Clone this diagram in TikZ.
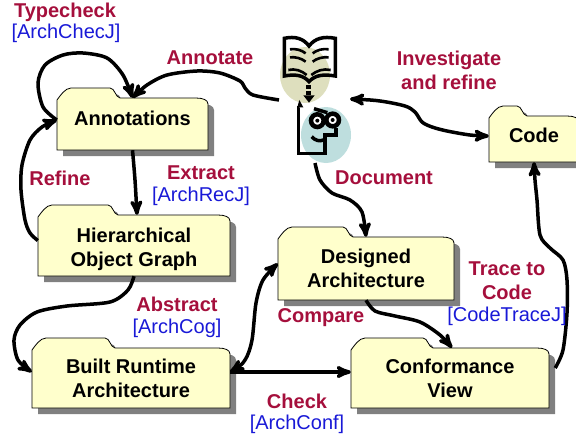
\documentclass[tikz,border=0pt]{standalone}
\usepackage{fontspec}
\setmainfont{Liberation Sans}
\usetikzlibrary{arrows}
\definecolor{folderfill}{RGB}{255,255,204}
\definecolor{labelred}{RGB}{165,15,60}
\definecolor{labelblue}{RGB}{25,25,215}
\definecolor{bookdisc}{RGB}{222,223,190}
\definecolor{readerdisc}{RGB}{190,222,222}
\tikzset{
	>=stealth',
	x=1pt,
	y=-1pt,
	flow/.style={line width=3.5pt},
	foldershadow/.style={fill=black!50},
	folderbody/.style={fill=folderfill, draw=black, line width=0.8pt},
	foldertext/.style={font=\fontsize{20}{24}\selectfont\bfseries, align=center, inner sep=0pt},
	action/.style={font=\fontsize{20}{24}\selectfont\bfseries, text=labelred, align=center, inner sep=0pt},
	tool/.style={font=\fontsize{20}{24}\selectfont, text=labelblue, inner sep=0pt},
	icon/.style={line width=3.5pt, line join=miter},
	pageline/.style={line width=2.6pt}}

% name, left, top, right, bottom, end of tab, text
\newcommand{\folder}[7]{
	\def\outline{({#2},{#3+2}) .. controls ({#2+3},{#3-2}) and ({#2+8},{#3-10}) .. ({#2+14},{#3-10})
		-- ({#6-10},{#3-10}) .. controls ({#6-5},{#3-10}) and ({#6-5},{#3-1}) .. ({#6},{#3})
		-- ({#4-12},{#3}) .. controls ({#4-5},{#3}) and ({#4},{#3+2}) .. ({#4},{#3+6})
		-- ({#4},{#5}) -- ({#2},{#5}) -- cycle}
	\fill[foldershadow, shift={(6,6)}] \outline;
	\draw[folderbody] \outline;
	\node[foldertext, minimum width={(#4-#2)*1pt}, minimum height={(#5-#3)*1pt}] (#1) at ({(#2+#4)/2},{(#3+#5)/2}) {#7};
}

\begin{document}
\begin{tikzpicture}
	\useasboundingbox (0,0) rectangle (576,437);
	
	\fill[bookdisc] (305,75) ellipse (25 and 28);
	\fill[readerdisc] (326,135) ellipse (25 and 28);
	
	% book and reader
	\begin{scope}[shift={(240,20)}, x=0.3333pt, y=-0.3333pt]
		\draw[icon] (133,55) .. controls (165,48) and (190,55) .. (207,78) .. controls (225,55) and (250,48) .. (286,55) -- (286,168) .. controls (250,162) and (225,165) .. (207,185) .. controls (190,165) and (165,162) .. (133,168) -- cycle;
		\draw[pageline] (150,88) .. controls (165,85) and (185,90) .. (197,100);
		\draw[pageline] (150,112) .. controls (165,110) and (185,115) .. (197,125);
		\draw[pageline] (145,150) .. controls (165,145) and (185,152) .. (200,165);
		\draw[pageline] (218,100) .. controls (230,90) and (250,85) .. (266,88);
		\draw[pageline] (218,125) .. controls (230,115) and (250,110) .. (266,112);
		\draw[pageline] (214,165) .. controls (230,152) and (250,145) .. (272,150);
		\draw[line width=5pt, dash pattern=on 4pt off 2pt] (207,195) -- (207,228);
		\fill (190,226) -- (224,226) -- (207,248) -- cycle;
		\draw[icon] (178,262) -- (175,262) -- (175,400) -- (255,400) -- (255,345) -- (288,345) -- (288,325);
		\fill (178,240) -- (190,262) -- (172,262) -- cycle;
		\draw[icon] (222,266) -- (262,278);
		\draw[line width=4.5pt, fill=white] (232,302) circle (19);
		\draw[line width=4.5pt, fill=white] (278,300) circle (19);
		\fill (232,302) circle (6);
		\fill (278,300) circle (6);
		\draw[icon] (215,350) .. controls (225,362) and (240,365) .. (250,360);
	\end{scope}
	\coordinate (bookleft) at (279,100);
	\coordinate (readerright) at (350,99);
	\coordinate (readerbottom) at (315,163);
	
	\folder{annotations}{57}{98}{208}{150}{120}{\raisebox{12pt}{Annotations}}
	\folder{graph}{38}{215}{230}{276}{118}{\raisebox{0pt}[22pt]{Hierarchical}\\Object Graph}
	\folder{built}{32}{348}{230}{408}{115}{Built Runtime\\Architecture}
	\folder{designed}{278}{237}{454}{300}{353}{Designed\\Architecture}
	\folder{conformance}{351}{348}{549}{408}{433}{Conformance\\View}
	\folder{code}{489}{116}{579}{162}{527}{\raisebox{8pt}{Code}}
	
	\draw[flow, ->] plot[smooth] coordinates {([yshift=4pt]annotations.west) (43,107) (38,83) (45,65) (63,55) (83,53) (107,58) (123,75) (annotations.north)};
	\draw[flow, ->] plot[smooth] coordinates {(bookleft) (253,95) (245,88) (240,81) (220,73) (197,71) (167,75) (147,85) (annotations.north)};
	\draw[flow, ->] plot[smooth] coordinates {(annotations.south) (135,180) ([xshift=3pt]graph.north)};
	\draw[flow, ->] plot[smooth] coordinates {([yshift=5pt]graph.west) (30,233) (25,220) (21,190) (22,165) (30,140) (42,127) ([yshift=4pt]annotations.west)};
	\draw[flow, ->] plot[smooth] coordinates {(graph.south) (128,290) (110,302) (67,306) (37,312) (20,325) (14,340) (18,360) ([yshift=6pt]built.west)};
	\draw[flow, <->] plot[smooth] coordinates {([yshift=6pt]built.east) (245,360) (252,340) (256,303) (263,280) ([yshift=5pt]designed.west)};
	\draw[flow, ->] ([yshift=6pt]built.east) -- ([yshift=6pt]conformance.west);
	\draw[flow, ->] plot[smooth] coordinates {(designed.south) (375,311) (395,316) (420,322) (440,335) ([xshift=2pt]conformance.north)};
	\draw[flow, ->] plot[smooth] coordinates {(readerbottom) (320,180) (332,193) (350,200) (362,212) (designed.north)};
	\draw[flow, <->] plot[smooth] coordinates {(readerright) (380,101) (405,106) (415,112) (422,122) (432,127) (447,131) (470,135) ([yshift=3pt]code.west)};
	\draw[flow, ->] plot[smooth] coordinates {([xshift=6pt,yshift=10pt]conformance.east) (563,350) (567,313) (567,280) (563,260) (550,248) (540,235) (537,200) (535,180) (code.south)};
	
	\node[action] (typecheck) at (65,12) {Typecheck};
	\node[tool] (archchecj) at (66,33) {[ArchChecJ]};
	\node[action] (annotate) at (210,58) {Annotate};
	\node[action] (investigate) at (449,70) {Investigate\\and refine};
	\node[action] (extract) at (201,173) {Extract};
	\node[tool] (archrecj) at (201,196) {[ArchRecJ]};
	\node[action] (refine) at (60,178) {Refine};
	\node[action] (document) at (384,178) {Document};
	\node[action] (abstract) at (177,304) {Abstract};
	\node[tool] (archcog) at (177,328) {[ArchCog]};
	\node[action] (compare) at (321,318) {Compare};
	\node[action] (trace) at (507,281) {Trace to\\Code};
	\node[tool] (codetracej) at (507,316) {[CodeTraceJ]};
	\node[action] (check) at (297,401) {Check};
	\node[tool] (archconf) at (297,424) {[ArchConf]};
\end{tikzpicture}
\end{document}
